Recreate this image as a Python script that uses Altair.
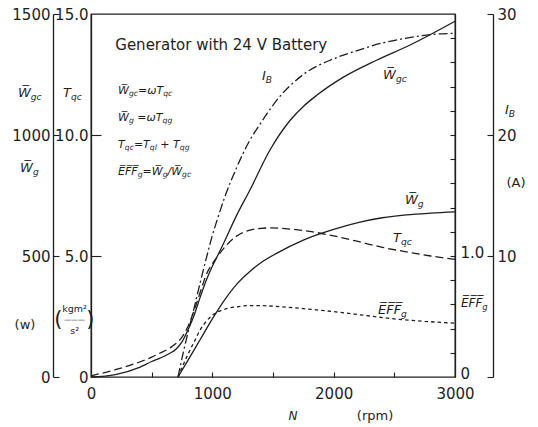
import altair as alt
import pandas as pd

# ---------------------------------------------------------------
# Generator characteristics with a 24 V battery, versus rotor speed N
# ---------------------------------------------------------------

# input power  W_gc  (W)
N_WGC = [0, 200, 400, 500, 570, 650, 700, 750, 800, 850, 900, 950, 1000, 1050,
         1100, 1200, 1310, 1475, 1640, 1750, 1863, 2077, 2357, 2630, 3000]
WGC = [0, 10, 40, 64, 78, 98, 115, 145, 195, 255, 330, 400, 458, 508,
       560, 668, 773, 938, 1060, 1118, 1165, 1238, 1310, 1372, 1470]

# input torque  T_qc  (kgm^2/s^2)
N_TQC = [0, 200, 400, 500, 570, 650, 700, 750, 800, 850, 900, 956, 1000, 1040,
         1100, 1146, 1200, 1310, 1400, 1475, 1600, 1800, 2000, 2200, 2400,
         2600, 2800, 3000]
TQC = [0.05, 0.3, 0.62, 0.82, 0.99, 1.2, 1.38, 1.65, 2.1, 2.75, 3.5, 4.3, 4.68,
       4.96, 5.35, 5.6, 5.82, 6.07, 6.14, 6.16, 6.13, 6.02, 5.83, 5.6, 5.36,
       5.17, 5.0, 4.86]

# charging current  I_B  (A)
N_IB = [717, 760, 800, 850, 900, 950, 1000, 1050, 1100, 1200, 1300, 1400, 1533,
        1750, 2000, 2200, 2400, 2600, 2800, 3000]
IB = [0, 2.0, 3.7, 5.7, 7.8, 9.8, 11.7, 13.3, 14.8, 17.3, 19.4, 21.0, 22.9,
      25.0, 26.3, 27.0, 27.6, 28.0, 28.3, 28.4]

# output power  W_g  (W)
N_WG = [717, 800, 900, 1000, 1100, 1200, 1300, 1400, 1533, 1750, 2000, 2200,
        2400, 2600, 2800, 3000]
WG = [0, 70, 155, 240, 318, 383, 432, 472, 512, 566, 610, 638, 658, 670, 677, 682]

# efficiency  EFF_g
N_EFF = [717, 760, 800, 850, 900, 950, 1000, 1100, 1200, 1300, 1400, 1500, 1750,
         2000, 2250, 2500, 2750, 3000]
EFF = [0, 0.1, 0.19, 0.29, 0.39, 0.46, 0.51, 0.56, 0.58, 0.59, 0.59, 0.585,
       0.565, 0.54, 0.51, 0.48, 0.46, 0.445]

# axis ranges and tick labels
N_RANGE = [0, 3000]
W_RANGE = [0, 1500]
T_RANGE = [0, 15]
E_RANGE = [0, 3]
I_RANGE = [0, 30]
N_LABELS = [0, 1000, 2000, 3000]
N_TICKS = [500, 1000, 1500, 2000, 2500]
W_LABELS = [0, 500, 1000, 1500]
T_LABELS = [0, 5, 10, 15]
E_LABELS = [0, 1]
E_TICKS = [round(0.2 * k, 1) for k in range(1, 15)]
I_LABELS = [10, 20, 30]
I_TICKS = [0, 10, 20, 30]

PLOT_W, PLOT_H = 364, 363
INK = "#1e1e1e"
FONT = "DejaVu Sans"
OVL = "\u0305"  # combining overline

df_wgc = pd.DataFrame({"N": N_WGC, "v": WGC})
df_tqc = pd.DataFrame({"N": N_TQC, "v": TQC})
df_ib = pd.DataFrame({"N": N_IB, "v": IB})
df_wg = pd.DataFrame({"N": N_WG, "v": WG})
df_eff = pd.DataFrame({"N": N_EFF, "v": EFF})


def xenc(axis=None):
    return alt.X("N:Q", scale=alt.Scale(domain=N_RANGE, nice=False, zero=False),
                 axis=axis)


def yenc(field, dom, axis=None):
    return alt.Y(f"{field}:Q", scale=alt.Scale(domain=dom, nice=False, zero=False),
                 axis=axis)


def label_axis(orient, values, offset, pad, expr=None, domain=True, shift=0):
    kw = dict(orient=orient, values=values, offset=offset, ticks=False, tickSize=0,
              labelPadding=pad, domain=domain, domainColor=INK, domainWidth=1.3,
              grid=False, title=None, labelFont=FONT, labelFontSize=15,
              labelColor=INK, labelFlush=False, labelOverlap=False, format="d",
              labelOffset=shift)
    if expr:
        kw["labelExpr"] = expr
    return alt.Axis(**kw)


def tick_axis(orient, values, offset, size):
    return alt.Axis(orient=orient, values=values, offset=offset, ticks=True,
                    tickSize=size, tickColor=INK, tickWidth=1.1, labels=False,
                    domain=False, grid=False, title=None)


def curve(df, dom, dash=None, y_axis=None, x_axis=None, opacity=1.0):
    kw = dict(color=INK, strokeWidth=1.3, interpolate="monotone",
              strokeOpacity=opacity)
    if dash:
        kw["strokeDash"] = dash
    return alt.Chart(df).mark_line(**kw).encode(x=xenc(x_axis),
                                                y=yenc("v", dom, y_axis))


one_dec = "datum.value == 0 ? '0' : format(datum.value, '.1f')"

layers = [
    # power curves on the outer left scale
    curve(df_wgc, W_RANGE,
          y_axis=label_axis("left", W_LABELS, 38, 3),
          x_axis=label_axis("bottom", N_LABELS, 0, 9, domain=False)),
    curve(df_wg, W_RANGE,
          y_axis=tick_axis("right", W_LABELS, -(PLOT_W + 38), 6),
          x_axis=tick_axis("top", N_TICKS, -PLOT_H, 5)),
    # torque on the inner left scale
    curve(df_tqc, T_RANGE, dash=[8, 4],
          y_axis=label_axis("left", T_LABELS, 0, 3, one_dec)),
    curve(df_tqc, T_RANGE, opacity=0,
          y_axis=tick_axis("right", [5, 10], -PLOT_W, 10)),
    # efficiency on the inner right scale
    curve(df_eff, E_RANGE, dash=[3.5, 3],
          y_axis=label_axis("right", E_LABELS, 0, 5, one_dec, shift=-4)),
    curve(df_eff, E_RANGE, opacity=0,
          y_axis=tick_axis("left", E_TICKS, -PLOT_W, 5)),
    # battery current on the outer right scale
    curve(df_ib, I_RANGE, dash=[9, 3, 2, 3],
          y_axis=label_axis("right", I_LABELS, 38, 4)),
    curve(df_ib, I_RANGE, opacity=0,
          y_axis=tick_axis("left", I_TICKS, -(PLOT_W + 38), 6)),
]

# ---------------------------------------------------------------
# Text: titles, formulas and curve names (positions in N / W units)
# ---------------------------------------------------------------
N_PER_PX = (N_RANGE[1] - N_RANGE[0]) / PLOT_W
W_PER_PX = (W_RANGE[1] - W_RANGE[0]) / PLOT_H

EM = {"W": 0.989, "T": 0.611, "g": 0.635, "c": 0.55, "q": 0.635, "l": 0.278,
      "E": 0.632, "F": 0.575, "I": 0.295, "B": 0.686, "=": 0.838, "+": 0.838,
      "/": 0.337, "\u03c9": 0.84, " ": 0.318, OVL: 0.0}

rows = []


def put(n, w, text, size, italic=False, align="left"):
    rows.append(dict(N=n, W=w, t=text, fs=size, it=italic, al=align))


def em_width(text, fs):
    return sum(EM.get(ch, 0.6) for ch in text) * fs


def run(n, w, segs, size, sub_scale=0.7):
    """Lay out a formula of (text, is_subscript) pieces, left to right."""
    x = n
    for text, sub in segs:
        fs = size * sub_scale if sub else size
        drop = size * 0.3 if sub else 0.0
        core = text.strip(" ")
        lead = len(text) - len(text.lstrip(" "))
        trail = len(text) - len(text.rstrip(" "))
        x += em_width(" " * lead, fs) * N_PER_PX
        put(x, w - drop * W_PER_PX, core, fs, italic=True)
        x += (em_width(core, fs) + em_width(" " * trail, fs)) * N_PER_PX


W_BAR = "W" + OVL
EFF_BAR = "E" + OVL + "F" + OVL + "F" + OVL

put(200, 1372, "Generator with 24 V Battery", 15)

# formulas
run(223, 1182, [(W_BAR, 0), ("gc", 1), ("=\u03c9T", 0), ("qc", 1)], 11)
run(223, 1070, [(W_BAR, 0), ("g", 1), (" =\u03c9T", 0), ("qg", 1)], 11)
run(223, 959, [("T", 0), ("qc", 1), ("=T", 0), ("ql", 1), (" + T", 0), ("qg", 1)], 11)
run(223, 847, [(EFF_BAR, 0), ("g", 1), ("=", 0), (W_BAR, 0), ("g", 1), ("/", 0),
               (W_BAR, 0), ("gc", 1)], 11)

# curve names
run(1409, 1244, [("I", 0), ("B", 1)], 13)
run(2407, 1248, [(W_BAR, 0), ("gc", 1)], 13)
run(2588, 731, [(W_BAR, 0), ("g", 1)], 13)
run(2489, 574, [("T", 0), ("qc", 1)], 13)
run(2365, 277, [(EFF_BAR, 0), ("g", 1)], 13)

# left axis titles
run(-602, 1174, [(W_BAR, 0), ("gc", 1)], 13)
run(-231, 1174, [("T", 0), ("qc", 1)], 13)
run(-585, 864, [(W_BAR, 0), ("g", 1)], 13)
put(-544, 215, "(w)", 13, align="center")
put(-135, 279, "kgm\u00b2", 9.5, align="center")
put(-135, 236, "\u2014\u2014\u2014", 7, align="center")
put(-135, 192, "s\u00b2", 9.5, align="center")
put(-270, 236, "(", 21, align="center")
put(-5, 236, ")", 21, align="center")

# right axis titles
run(3412, 1103, [("I", 0), ("B", 1)], 13)
put(3503, 802, "(A)", 13, align="center")
run(3049, 306, [(EFF_BAR, 0), ("g", 1)], 12)

# x axis title
put(1665, -161, "N", 12, italic=True, align="center")
put(2341, -161, "(rpm)", 13, align="center")

labels = pd.DataFrame(rows)
for (italic, align), part in labels.groupby(["it", "al"]):
    layers.append(
        alt.Chart(part.drop(columns=["it", "al"])).mark_text(
            font=FONT, fontStyle="italic" if italic else "normal", color=INK,
            align=align, baseline="middle"
        ).encode(
            x=xenc(), y=yenc("W", W_RANGE), text="t:N",
            size=alt.Size("fs:Q", scale=None, legend=None),
        )
    )

chart = (
    alt.layer(*layers)
    .resolve_scale(x="independent", y="independent")
    .resolve_axis(x="independent", y="independent")
    .properties(
        width=PLOT_W, height=PLOT_H,
        padding={"left": 91, "top": 14, "right": 83, "bottom": 50},
        autosize=alt.AutoSizeParams(type="none"),
        background="white",
    )
    .configure_view(stroke=INK, strokeWidth=1.3)
)

chart.save("out.html", embed_options={"renderer": "svg", "actions": False})
